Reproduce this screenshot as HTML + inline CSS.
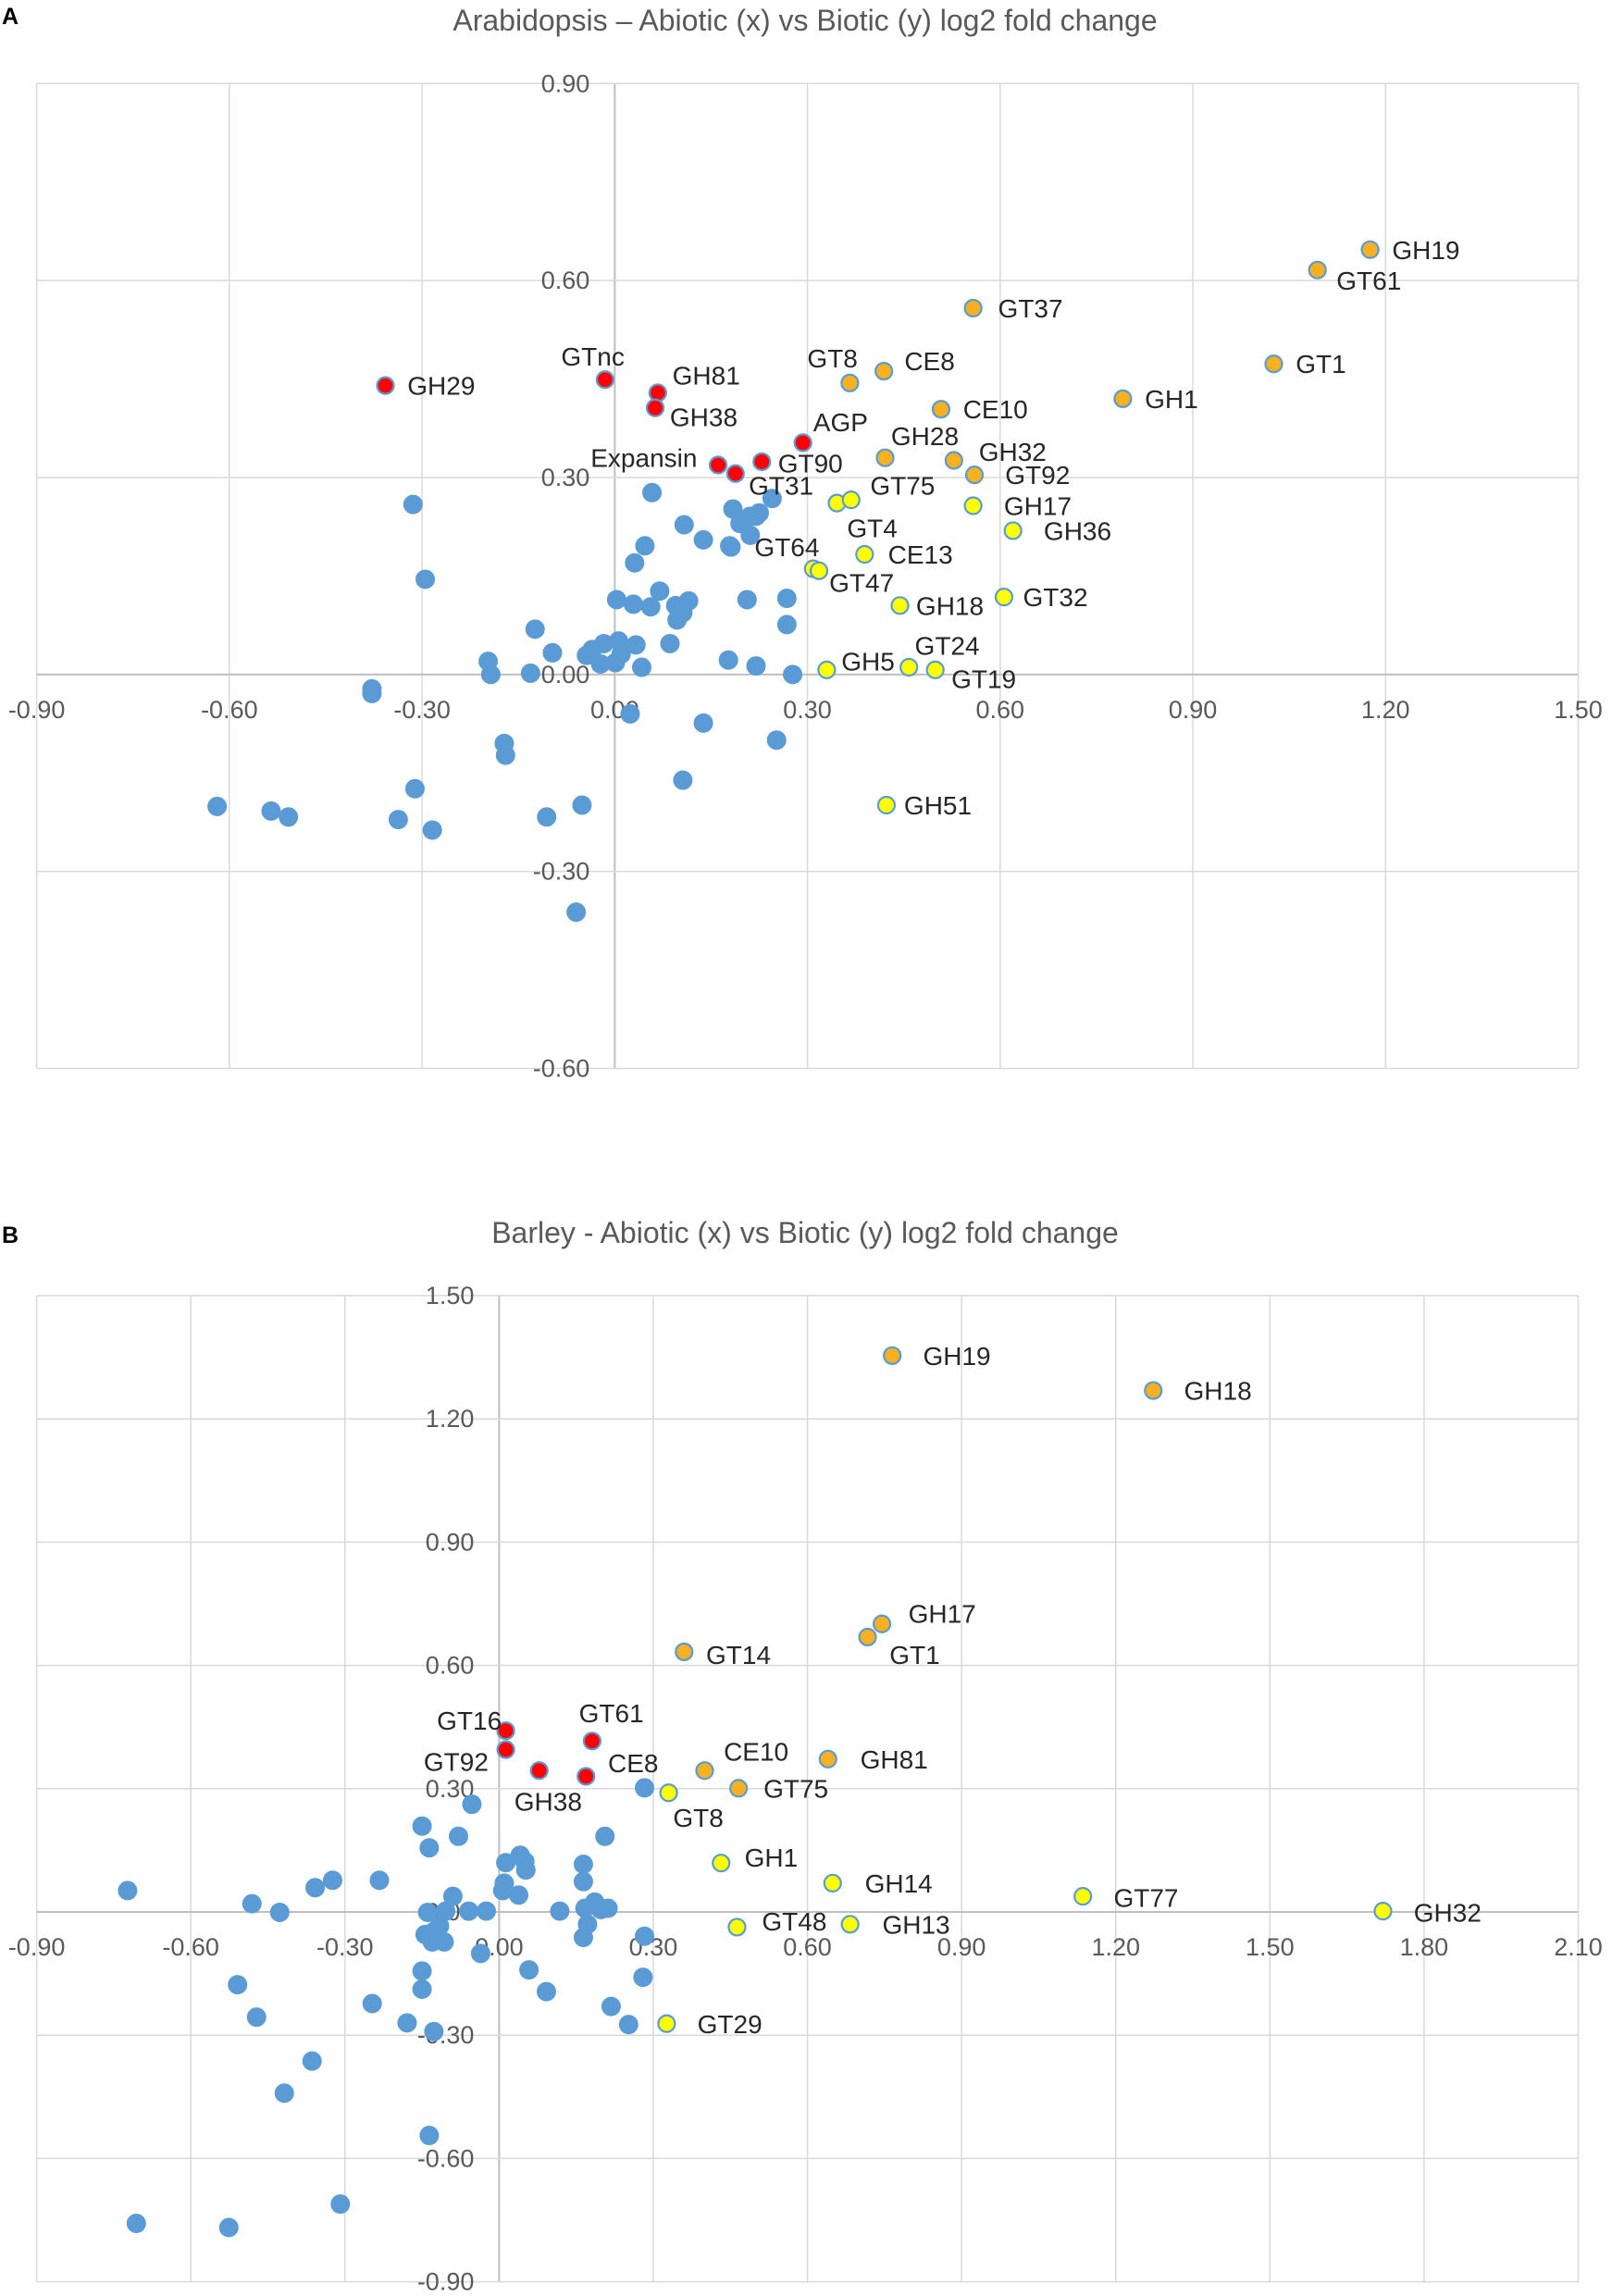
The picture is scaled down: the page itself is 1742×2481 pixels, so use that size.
<!DOCTYPE html>
<html><head><meta charset="utf-8"><style>
html,body{margin:0;padding:0;background:#fff}
svg{display:block}
text{font-family:"Liberation Sans",Arial,sans-serif}
</style></head><body>
<svg id="s" width="1742" height="2481" viewBox="0 0 1742 2481">
<text x="2" y="26" font-size="25" font-weight="bold" fill="#000">A</text>
<text x="870" y="33" font-size="32" fill="#595959" text-anchor="middle">Arabidopsis – Abiotic (x) vs Biotic (y) log2 fold change</text>
<text x="2" y="1343" font-size="25" font-weight="bold" fill="#000">B</text>
<text x="870" y="1343" font-size="32" fill="#595959" text-anchor="middle">Barley - Abiotic (x) vs Biotic (y) log2 fold change</text>
</svg>
<script>
// ---------- Chart A data ----------
const aXTicks = [-0.90,-0.60,-0.30,0.00,0.30,0.60,0.90,1.20,1.50];
const aYTicks = [-0.60,-0.30,0.00,0.30,0.60,0.90];
const aBlueX = [-0.314,-0.295,0.058,0.108,0.031,0.047,0.184,0.195,0.211,0.179,0.220,0.211,0.245,0.225,0.138,0.181,0.003,0.056,0.070,0.095,0.097,0.115,0.106,0.086,0.029,0.206,0.268,0.268,-0.124,-0.097,-0.197,-0.193,-0.131,-0.044,-0.035,-0.022,-0.017,0.006,0.010,0.033,0.001,0.042,0.177,0.220,0.277,0.024,0.138,0.252,-0.172,-0.170,-0.619,-0.535,-0.508,-0.311,-0.337,-0.284,-0.106,-0.051,0.106,-0.060,-0.378,-0.378];
const aBlueY = [0.259,0.145,0.277,0.228,0.170,0.196,0.252,0.230,0.241,0.196,0.241,0.212,0.268,0.246,0.205,0.194,0.114,0.103,0.127,0.105,0.083,0.112,0.094,0.047,0.107,0.114,0.116,0.076,0.069,0.033,0.020,0.000,0.002,0.029,0.038,0.016,0.047,0.051,0.031,0.045,0.018,0.011,0.022,0.013,0.000,-0.060,-0.074,-0.100,-0.105,-0.123,-0.201,-0.208,-0.217,-0.174,-0.221,-0.237,-0.217,-0.199,-0.161,-0.362,-0.022,-0.029];
const aOrangeNames = ["GH19","GT61","GT37","GT1","GH1","CE8","GT8","CE10","GH28","GH32","GT92"];
const aOrangeX = [1.176,1.094,0.558,1.026,0.791,0.419,0.366,0.508,0.421,0.528,0.560];
const aOrangeY = [0.647,0.616,0.558,0.473,0.420,0.462,0.444,0.404,0.330,0.326,0.304];
const aYellowNames = ["","GT75","GH17","GH36","CE13","GT64","GT47","GH18","GT32","GH5","GT24","GT19","GH51"];
const aYellowX = [0.346,0.368,0.558,0.620,0.389,0.309,0.318,0.444,0.606,0.330,0.458,0.499,0.423];
const aYellowY = [0.261,0.266,0.257,0.219,0.183,0.161,0.158,0.105,0.118,0.007,0.011,0.007,-0.199];
const aRedNames = ["GH29","GTnc","GH81","GH38","AGP","GT90","Expansin","GT31"];
const aRedX = [-0.357,-0.015,0.067,0.063,0.293,0.229,0.161,0.188];
const aRedY = [0.440,0.449,0.429,0.406,0.353,0.324,0.319,0.306];
// ---------- Chart B data ----------
const bXTicks = [-0.90,-0.60,-0.30,0.00,0.30,0.60,0.90,1.20,1.50,1.80,2.10];
const bYTicks = [-0.90,-0.60,-0.30,0.00,0.30,0.60,0.90,1.20,1.50];
const bBlueX = [-0.723,-0.053,0.283,-0.150,-0.079,-0.136,-0.324,-0.358,-0.233,-0.481,-0.427,-0.090,-0.104,-0.139,-0.116,-0.127,-0.144,-0.130,-0.107,-0.150,-0.059,-0.025,0.007,0.041,0.050,0.052,0.013,0.010,0.038,0.164,0.164,0.167,0.172,0.186,0.198,0.212,0.118,0.164,0.206,0.058,0.092,0.280,0.283,0.218,-0.509,-0.472,-0.247,-0.150,-0.179,-0.127,0.252,-0.364,-0.418,-0.136,-0.706,-0.526,-0.309,-0.036];
const bBlueY = [0.052,0.262,0.302,0.209,0.184,0.156,0.077,0.059,0.077,0.020,-0.001,0.038,0.002,-0.001,-0.034,-0.048,-0.055,-0.073,-0.073,-0.144,0.002,0.002,0.052,0.138,0.123,0.102,0.120,0.070,0.041,0.116,0.074,0.009,-0.030,0.024,0.006,0.009,0.002,-0.062,0.184,-0.141,-0.194,-0.159,-0.059,-0.230,-0.177,-0.256,-0.223,-0.188,-0.270,-0.291,-0.274,-0.363,-0.441,-0.544,-0.758,-0.768,-0.711,-0.101];
const bOrangeNames = ["GH19","GH18","GH17","GT1","GT14","GH81","CE10","GT75"];
const bOrangeX = [0.765,1.273,0.745,0.717,0.360,0.640,0.400,0.466];
const bOrangeY = [1.354,1.269,0.701,0.669,0.633,0.372,0.344,0.301];
const bYellowNames = ["GT8","GH1","GH14","GT77","GH32","GT48","GH13","GT29"];
const bYellowX = [0.330,0.432,0.649,1.136,1.720,0.463,0.683,0.326];
const bYellowY = [0.290,0.119,0.070,0.038,0.002,-0.037,-0.030,-0.272];
const bRedNames = ["GT16","GT92","GT61","GH38","CE8"];
const bRedX = [0.013,0.013,0.181,0.078,0.169];
const bRedY = [0.441,0.395,0.416,0.344,0.330];

// label offsets (style, in display units)
const OFF = {
 A:{GH19:[15,0],GT61:[13,7],GT37:[17,0],GT1:[15,0],GH1:[15,0],CE8:[14,-7],GT8:[-29,-17],CE10:[15,0],GH28:[4,-15],GH32:[17,-6],GT92:[21,0],
  GT75:[13,-10],GH17:[21,0],GH36:[21,0],CE13:[16,0],GT64:[-40,-15],GT47:[7,8],GH18:[11,0],GT32:[13,0],GH5:[10,-6],GT24:[4,-15],GT19:[11,6],GH51:[12,0],
  GH29:[15,0],GTnc:[-30,-16],GH81:[10,-12],GH38:[10,6],AGP:[7,-14],GT90:[11,1],Expansin:[-87,-5],GT31:[9,8]},
 B:{GH19:[21,0],GH18:[21,0],GH17:[18,-7],GT1:[15,12],GT14:[15,2],GH81:[22,0],CE10:[13,-13],GT75:[17,0],GT8:[3,17],GH1:[16,-4],GH14:[22,0],
  GT77:[21,1],GH32:[21,1],GT48:[17,-4],GH13:[22,0],GT29:[21,0],GT16:[-47,-7],GT92:[-56,8],GT61:[-9,-19],GH38:[-17,21],CE8:[15,-9]}
};
const EXTRA_LABELS_A = [["GT4",0.389,0.183,-12,-18]];

const svg = document.getElementById('s');
const NS = 'http://www.w3.org/2000/svg';
function mk(tag, attrs){const e=document.createElementNS(NS,tag);for(const k in attrs)e.setAttribute(k,attrs[k]);svg.appendChild(e);return e;}
const L=39.6,R=1705.5,K=1.584;

function chart(id, top, bottom, xmin, xmax, ymin, ymax, xt, yt, blueX, blueY, groups, offs, extra){
  const sx=v=>L+(v-xmin)/(xmax-xmin)*(R-L);
  const sy=v=>top+(ymax-v)/(ymax-ymin)*(bottom-top);
  const x0=sx(0), y0=sy(0);
  xt.forEach(t=>{
    const g=mk('line',{x1:sx(t),x2:sx(t),y1:top,y2:bottom,stroke:t===0?'#bfbfbf':'#d9d9d9','stroke-width':t===0?2:1.5});
    
    
    const tx=mk('text',{x:sx(t),y:y0+47,'font-size':27,fill:'#595959','text-anchor':'middle'});
    tx.textContent=t.toFixed(2);
    
    
  });
  yt.forEach(t=>{
    const g=mk('line',{x1:L,x2:R,y1:sy(t),y2:sy(t),stroke:t===0?'#bfbfbf':'#d9d9d9','stroke-width':t===0?2:1.5});
    
    
    const tx=mk('text',{x:x0-27,y:sy(t)+9,'font-size':27,fill:'#595959','text-anchor':'end'});
    tx.textContent=t.toFixed(2);
    
    
  });
  blueX.forEach((v,i)=>{
    const c=mk('circle',{cx:sx(v),cy:sy(blueY[i]),r:10,fill:'#5b9bd5',stroke:'#5b9bd5','stroke-width':1});
    
    
  });
  groups.forEach(g=>{
    g.x.forEach((v,i)=>{
      const px=sx(v), py=sy(g.y[i]);
      const c=mk('circle',{cx:px,cy:py,r:9,fill:g.color,stroke:'#5b9bd5','stroke-width':2.2});
      
      
      const n=g.names[i];
      if(n){
        const o=offs[n]||[15,0];
        const t=mk('text',{x:px+o[0]*K,y:py+o[1]*K+10,'font-size':28,fill:'#262626'});
        t.textContent=n;
        
        
      }
    });
  });
  (extra||[]).forEach(e=>{
    const t=mk('text',{x:sx(e[1])+e[3]*K,y:sy(e[2])+e[4]*K+10,'font-size':28,fill:'#262626'});
    t.textContent=e[0];
    
    
  });
}
chart('chart-a',90.3,1154.5,-0.9,1.5,-0.6,0.9,aXTicks,aYTicks,aBlueX,aBlueY,[
  {x:aOrangeX,y:aOrangeY,names:aOrangeNames,color:'#f7b120'},
  {x:aYellowX,y:aYellowY,names:aYellowNames,color:'#ffff00'},
  {x:aRedX,y:aRedY,names:aRedNames,color:'#ff0000'}],OFF.A,EXTRA_LABELS_A);
chart('chart-b',1400,2465.6,-0.9,2.1,-0.9,1.5,bXTicks,bYTicks,bBlueX,bBlueY,[
  {x:bOrangeX,y:bOrangeY,names:bOrangeNames,color:'#f7b120'},
  {x:bYellowX,y:bYellowY,names:bYellowNames,color:'#ffff00'},
  {x:bRedX,y:bRedY,names:bRedNames,color:'#ff0000'}],OFF.B);
</script>
</body></html>
